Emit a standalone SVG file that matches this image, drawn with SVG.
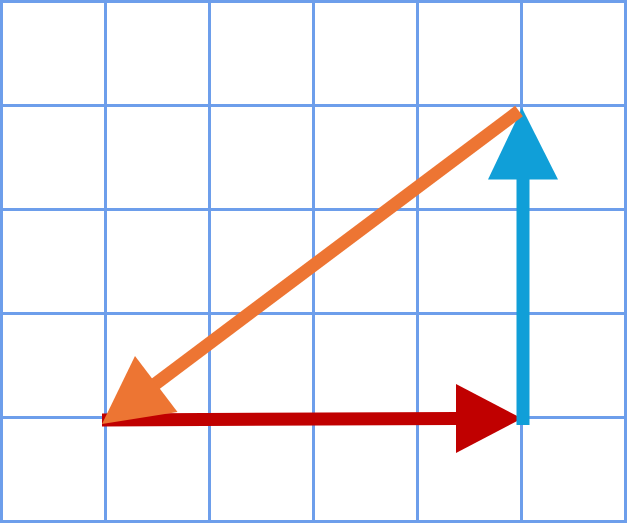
<svg xmlns="http://www.w3.org/2000/svg" width="630" height="526" viewBox="0 0 630 526">
<style>
.grid line{stroke:#6d9eeb;stroke-width:3}
.shaft{stroke-width:13;stroke-linecap:butt;fill:none}
</style>
<rect width="630" height="526" fill="#ffffff"/>
<g id="grid" class="grid">
<line x1="1.5" y1="0" x2="1.5" y2="523"/>
<line x1="105.5" y1="0" x2="105.5" y2="523"/>
<line x1="209.5" y1="0" x2="209.5" y2="523"/>
<line x1="313.5" y1="0" x2="313.5" y2="523"/>
<line x1="417.5" y1="0" x2="417.5" y2="523"/>
<line x1="521.5" y1="0" x2="521.5" y2="523"/>
<line x1="625.5" y1="0" x2="625.5" y2="523"/>
<line x1="0" y1="1.5" x2="627" y2="1.5"/>
<line x1="0" y1="105.5" x2="627" y2="105.5"/>
<line x1="0" y1="209.5" x2="627" y2="209.5"/>
<line x1="0" y1="313.5" x2="627" y2="313.5"/>
<line x1="0" y1="417.5" x2="627" y2="417.5"/>
<line x1="0" y1="521.5" x2="627" y2="521.5"/>
</g>
<g id="connectors">
<g id="red-arrow">
<line class="shaft" stroke="#c00000" x1="102" y1="420" x2="458" y2="418.5"/>
<polygon fill="#c00000" points="456,384 456,453 522,418.5"/>
</g>
<g id="blue-arrow">
<line class="shaft" stroke="#109fd8" x1="523" y1="425" x2="523" y2="178"/>
<polygon fill="#109fd8" points="488,179.5 558,179.5 522,108"/>
</g>
<g id="orange-arrow">
<line class="shaft" stroke="#ed7533" x1="519" y1="111" x2="154" y2="385"/>
<polygon fill="#ed7533" points="135,356 177.5,412 102,424"/>
</g>
</g>
</svg>
